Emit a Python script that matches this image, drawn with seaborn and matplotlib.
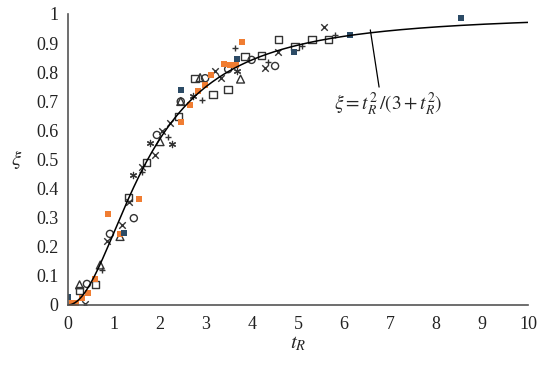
import numpy as np
import pandas as pd
import seaborn as sns
import matplotlib.pyplot as plt

sq_t = [0.25, 0.60, 1.31, 1.70, 2.40, 2.76, 3.15, 3.48, 3.85, 4.21, 4.57, 4.93, 5.30, 5.66]
sq_xi = [0.049, 0.069, 0.369, 0.489, 0.647, 0.779, 0.724, 0.741, 0.853, 0.857, 0.911, 0.888, 0.911, 0.911]

circ_t = [0.41, 0.91, 1.43, 1.93, 2.45, 2.98, 3.48, 3.99, 4.50]
circ_xi = [0.072, 0.244, 0.298, 0.584, 0.699, 0.779, 0.810, 0.842, 0.821]

tri_t = [0.25, 0.70, 1.13, 2.00, 2.45, 2.87, 3.75]
tri_xi = [0.069, 0.137, 0.235, 0.561, 0.699, 0.781, 0.776]

x_t = [0.37, 0.84, 1.17, 1.33, 1.60, 1.89, 2.04, 2.22, 3.20, 3.32, 4.28, 4.57, 5.57]
x_xi = [0.003, 0.218, 0.275, 0.354, 0.473, 0.515, 0.596, 0.624, 0.805, 0.779, 0.813, 0.868, 0.956]

star_t = [1.42, 1.78, 2.25, 2.72, 3.68]
star_xi = [0.447, 0.556, 0.553, 0.718, 0.805]

plus_t = [0.02, 0.73, 1.60, 2.18, 2.91, 3.62, 4.35, 5.08, 5.80]
plus_xi = [0.003, 0.120, 0.458, 0.578, 0.704, 0.882, 0.836, 0.890, 0.928]

orange_t = [0.08, 0.17, 0.31, 0.44, 0.59, 0.86, 1.13, 1.54, 2.45, 2.65, 2.83, 2.98, 3.10, 3.38, 3.51, 3.65, 3.78]
orange_xi = [0.008, 0.006, 0.025, 0.042, 0.089, 0.313, 0.244, 0.363, 0.630, 0.687, 0.735, 0.756, 0.790, 0.828, 0.825, 0.825, 0.903]

blue_t = [0.0, 1.22, 2.46, 3.67, 4.91, 6.13, 8.54]
blue_xi = [0.026, 0.246, 0.739, 0.845, 0.868, 0.926, 0.986]

x_ticks = list(range(0, 11))
y_ticks = [0, 0.1, 0.2, 0.3, 0.4, 0.5, 0.6, 0.7, 0.8, 0.9, 1]
y_ticklabels = ['0', '0.1', '0.2', '0.3', '0.4', '0.5', '0.6', '0.7', '0.8', '0.9', '1']

sns.set_theme(style='white')
plt.rcParams['font.family'] = ['Liberation Serif', 'DejaVu Serif']
plt.rcParams['mathtext.fontset'] = 'stix'

fig = plt.figure(figsize=(5.4, 3.66), dpi=100)
ax = fig.add_axes([0.126, 0.167, 0.852, 0.795])

# fitted curve xi = t^2/(3+t^2)
t_curve = np.linspace(0, 10, 400)
curve = pd.DataFrame({'t': t_curve, 'xi': t_curve**2 / (3 + t_curve**2)})
sns.lineplot(data=curve, x='t', y='xi', color='black', linewidth=1.1, ax=ax)

edge = '#333333'
sns.scatterplot(x=sq_t, y=sq_xi, marker='s', s=28, facecolor='none', edgecolor=edge, linewidth=1.0, ax=ax)
sns.scatterplot(x=circ_t, y=circ_xi, marker='o', s=26, facecolor='none', edgecolor=edge, linewidth=1.0, ax=ax)
sns.scatterplot(x=tri_t, y=tri_xi, marker='^', s=32, facecolor='none', edgecolor=edge, linewidth=1.0, ax=ax)
sns.scatterplot(x=x_t, y=x_xi, marker='x', s=22, color=edge, linewidth=1.0, ax=ax)
sns.scatterplot(x=star_t, y=star_xi, marker=(6, 2, 0), s=20, color=edge, linewidth=0.9, ax=ax)
sns.scatterplot(x=plus_t, y=plus_xi, marker='+', s=22, color=edge, linewidth=1.0, ax=ax)
sns.scatterplot(x=orange_t, y=orange_xi, marker='s', s=24, color='#F07D32', linewidth=0, ax=ax)
sns.scatterplot(x=blue_t, y=blue_xi, marker='s', s=13, color='#2C4B66', linewidth=0, ax=ax)

ax.annotate(r'$\xi = t_R^2\,/(3 + t_R^2)$', xy=(6.57, 0.945), xytext=(6.96, 0.69),
            ha='center', va='center', fontsize=14,
            arrowprops=dict(arrowstyle='-', color='black', lw=0.9, shrinkA=0, shrinkB=0,
                            relpos=(0.42, 1.0)))

ax.set_xlim(0, 10)
ax.set_ylim(0, 1)
ax.set_xticks(x_ticks)
ax.set_yticks(y_ticks)
ax.set_yticklabels(y_ticklabels)
ax.tick_params(length=0, labelsize=13, colors='#222222')
ax.tick_params(axis='x', pad=8)
ax.tick_params(axis='y', pad=7)
for side in ['top', 'right']:
    ax.spines[side].set_visible(False)
for side in ['left', 'bottom']:
    ax.spines[side].set_color('#555555')
    ax.spines[side].set_linewidth(1.2)

ax.set_xlabel(r'$t_R$', fontsize=15, labelpad=1)
ax.set_ylabel(r'$\xi$', fontsize=15, rotation=0, labelpad=14, va='center')

fig.savefig('out.png', dpi=100)
